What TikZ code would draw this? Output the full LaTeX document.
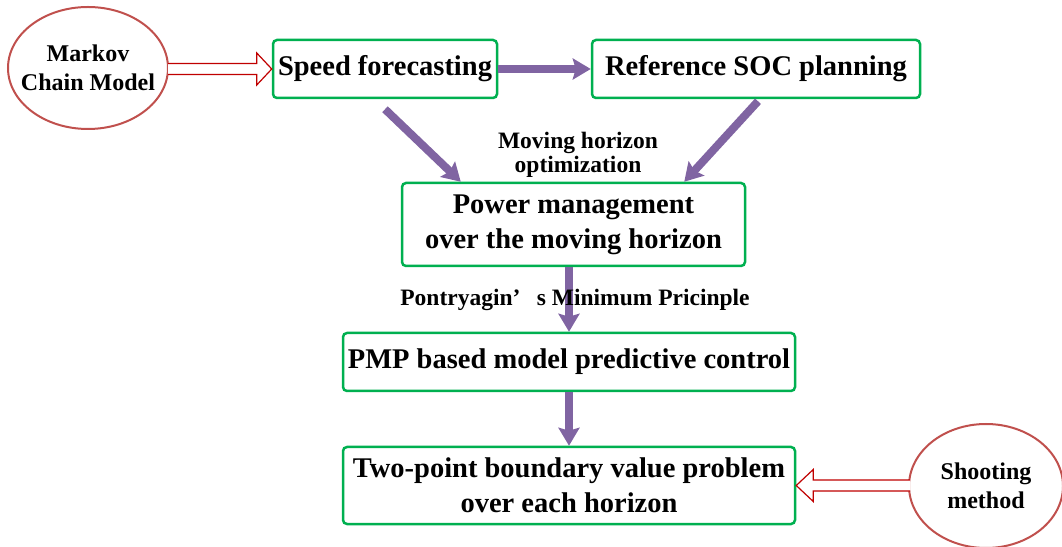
\documentclass[tikz,border=0pt]{standalone}
\usepackage{fontspec}
\setmainfont{Liberation Serif}
\usetikzlibrary{calc,arrows.meta,shapes.geometric}
\definecolor{boxgreen}{HTML}{00B050}
\definecolor{flowpurple}{HTML}{8064A2}
\definecolor{ovalred}{HTML}{C0504D}
\definecolor{hollowred}{HTML}{C00000}

\begin{document}
\begin{tikzpicture}[x=1pt,y=1pt,
  stage/.style={draw=boxgreen,line width=2.5pt,rounded corners=4pt,inner sep=0pt,align=center,font=\fontsize{28.5}{35}\selectfont\bfseries},
  oval/.style={draw=ovalred,line width=2pt,ellipse,inner xsep=-25pt,inner ysep=0pt,align=center,font=\fontsize{24}{29}\selectfont\bfseries},
  note/.style={align=center,inner sep=0pt,font=\fontsize{23.5}{24}\selectfont\bfseries},
  flow/.style={draw=flowpurple,line width=8pt,-{Stealth[length=18pt,width=21pt,inset=3pt]}},
  hollow/.style={draw=hollowred,line width=1.2pt,fill=white,line join=miter}]
\useasboundingbox (0,0) rectangle (1062,546);

% inputs
\node[oval,minimum width=160pt,minimum height=122pt] (markov) at (88,478) {Markov\\Chain Model};
\node[oval,minimum width=154pt,minimum height=124pt] (shoot) at (986,60) {Shooting\\method};

% stages
\node[stage,minimum width=224pt,minimum height=58pt] (speed) at (385,477) {Speed forecasting};
\node[stage,minimum width=328pt,minimum height=58pt] (ref) at (756,477) {Reference SOC planning};
\node[stage,minimum width=343pt,minimum height=83pt] (power) at (573.5,321.5) {Power management\\over the moving horizon};
\node[stage,minimum width=452pt,minimum height=58pt] (pmp) at (569,184) {PMP based model predictive control};
\node[stage,minimum width=452pt,minimum height=77pt] (tpbvp) at (569,60.5) {Two-point boundary value problem\\over each horizon};

% purple flow
\draw[flow] (speed.east) -- (ref.west);
\draw[flow] ($(speed.south)+(0,-10)$) -- ($(power.north west)+(60,0)$);
\draw[flow] ($(ref.south)+(2,-2)$) -- ($(power.north east)+(-62,0)$);
\draw[flow] (pmp.north |- power.south) -- (pmp.north);
\draw[flow] (pmp.south) -- (tpbvp.north);

% labels
\node[note] (movlbl) at (578,391) {Moving horizon\\optimization};
\node[note] (pmplbl) at (575,246) {Pontryagin’\hspace{0.7em}s Minimum Pricinple};

% hollow arrows
\draw[hollow] let \p1=(markov.east), \p2=(speed.west) in
  (\x1-1pt,\y2+5.5pt) -- (\x2-15pt,\y2+5.5pt) -- (\x2-15pt,\y2+16pt) -- (\x2,\y2)
  -- (\x2-15pt,\y2-16pt) -- (\x2-15pt,\y2-5.5pt) -- (\x1-1pt,\y2-5.5pt);
\draw[hollow] let \p1=(shoot.west), \p2=(tpbvp.east) in
  (\x1+2pt,\y2+5.5pt) -- (\x2+17pt,\y2+5.5pt) -- (\x2+17pt,\y2+16pt) -- (\x2,\y2)
  -- (\x2+17pt,\y2-16pt) -- (\x2+17pt,\y2-5.5pt) -- (\x1+2pt,\y2-5.5pt);

\end{tikzpicture}
\end{document}
